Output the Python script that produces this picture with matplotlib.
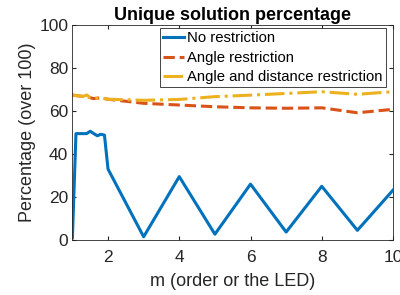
import matplotlib.pyplot as plt

plt.rcParams['font.family'] = ['Liberation Sans', 'DejaVu Sans']

# m values: fine steps from 1 to 2, then integers
m = [1.0, 1.1, 1.2, 1.3, 1.4, 1.5, 1.6, 1.7, 1.8, 1.9, 2.0,
     3, 4, 5, 6, 7, 8, 9, 10]

no_restr = [1, 49.5, 49.5, 49.5, 49.5, 50.6, 49.5, 48.5, 49.2, 48.8, 33,
            1.5, 29.5, 2.7, 26, 3.7, 25, 4.5, 23.2]
angle_restr = [67.5, 67.2, 67.0, 66.8, 67.0, 66.2, 65.8, 66.0, 66.0, 65.8, 65.5,
               63.6, 62.8, 62.0, 61.5, 61.3, 61.5, 59.2, 60.8]
angle_dist_restr = [67.5, 67.2, 67.0, 66.8, 67.5, 66.2, 65.8, 66.0, 66.0, 65.8, 65.5,
                    65.0, 65.4, 66.7, 67.4, 68.2, 69.0, 67.8, 69.0]

fig = plt.figure(figsize=(4, 2.95), dpi=100)
ax = fig.add_axes([0.181, 0.1864, 0.8015, 0.7286])

ax.plot(m, no_restr, color='#0072BD', lw=2.2, label='No restriction')
ax.plot(m, angle_restr, color='#D95319', lw=2.2, ls='--', label='Angle restriction')
ax.plot(m, angle_dist_restr, color='#EDB120', lw=2.2, ls='-.', label='Angle and distance restriction')

ax.set_xlim(1, 10)
ax.set_ylim(0, 100)
ax.set_xticks([2, 4, 6, 8, 10])
ax.set_yticks([0, 20, 40, 60, 80, 100])
ax.tick_params(direction='in', top=True, right=True, labelsize=12.5, colors='#262626', length=3)
ax.tick_params(axis='x', pad=7)
ax.tick_params(axis='y', pad=3)
for s in ax.spines.values():
    s.set_color('#262626')
    s.set_linewidth(0.6)

ax.set_title('Unique solution percentage', fontsize=13, fontweight='bold', pad=3.5)
ax.set_xlabel('m (order or the LED)', fontsize=13, color='#262626', labelpad=6)
ax.set_ylabel('Percentage (over 100)', fontsize=13, color='#262626', labelpad=2)

leg = ax.legend(loc='upper right', bbox_to_anchor=(0.977, 0.986), fontsize=10.7,
                frameon=True, fancybox=False, edgecolor='#262626', framealpha=1,
                borderpad=0.2, labelspacing=0.38, handlelength=1.4, handletextpad=0.2,
                borderaxespad=0)
leg.get_frame().set_linewidth(0.6)

fig.savefig('out.png', dpi=100)
